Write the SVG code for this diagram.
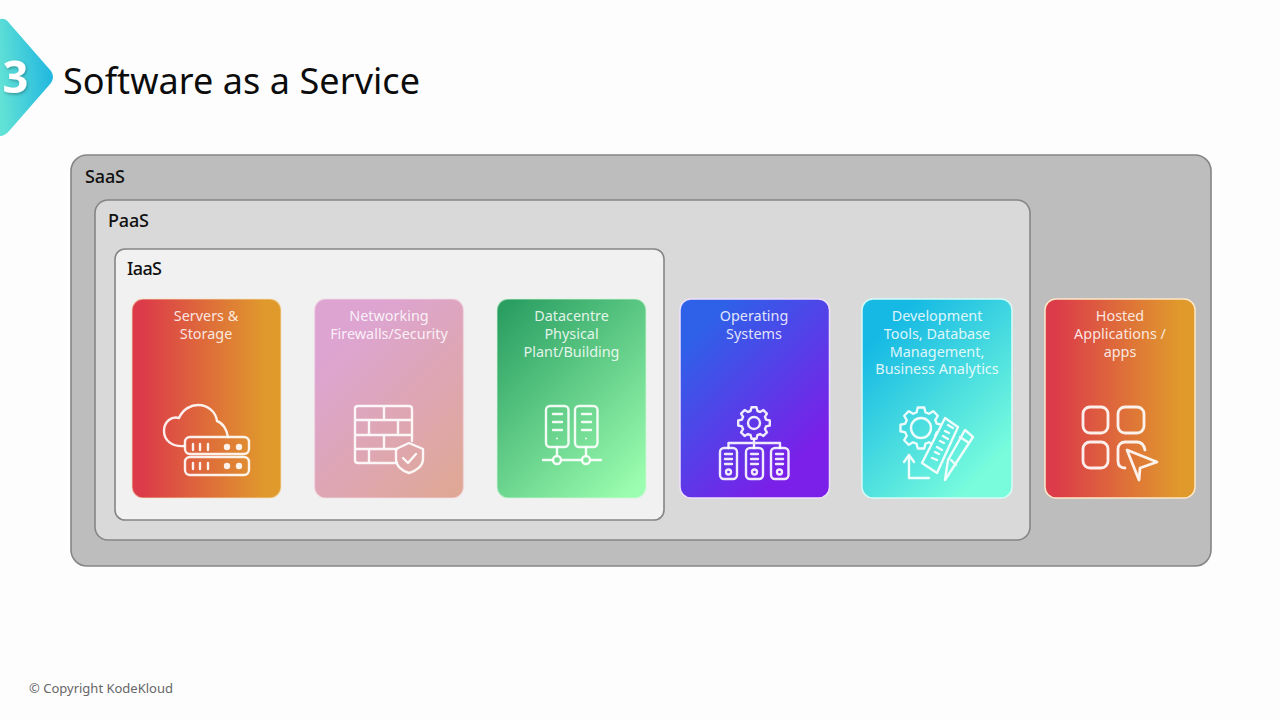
<svg xmlns="http://www.w3.org/2000/svg" width="1280" height="720" viewBox="0 0 1280 720">
<style>
text{font-family:"Noto Sans","Open Sans","DejaVu Sans",sans-serif}
.tier{stroke:#858585;stroke-width:1.6}
.lbl{font-size:18px;fill:#111;font-weight:500}
.ct{font-size:14.400px;fill:#fff;fill-opacity:.86;text-anchor:middle}
.card{stroke-width:1.500}
.i{fill:none;stroke:#fff;stroke-opacity:.9;stroke-width:2.400;stroke-linecap:round;stroke-linejoin:round}
.d{fill:#fff;fill-opacity:.9}
</style>
<defs>
<linearGradient id="gb" x1="0" y1="0.6" x2="1" y2="0.4"><stop offset="0" stop-color="#62e2d6"/><stop offset="1" stop-color="#1fb6e0"/></linearGradient>
<linearGradient id="g1" x1="0" y1="0" x2="1" y2="0"><stop offset="0.08" stop-color="#dc3c49"/><stop offset="0.9" stop-color="#e09a2c"/></linearGradient>
<linearGradient id="g2" gradientUnits="userSpaceOnUse" x1="314" y1="299" x2="488" y2="473"><stop offset="0.2" stop-color="#dda4d2"/><stop offset="1" stop-color="#dfa892"/></linearGradient>
<linearGradient id="g3" gradientUnits="userSpaceOnUse" x1="497" y1="299" x2="671" y2="473"><stop offset="0.05" stop-color="#2b9f62"/><stop offset="0.95" stop-color="#9cfeb0"/></linearGradient>
<linearGradient id="g4" gradientUnits="userSpaceOnUse" x1="680" y1="299" x2="854" y2="473"><stop offset="0.15" stop-color="#2f60e8"/><stop offset="0.8" stop-color="#7a20e8"/></linearGradient>
<linearGradient id="g5" gradientUnits="userSpaceOnUse" x1="862" y1="299" x2="1036" y2="473"><stop offset="0.15" stop-color="#15b9e4"/><stop offset="0.85" stop-color="#78fcdc"/></linearGradient>
<filter id="sh" x="-30%" y="-30%" width="160%" height="160%"><feDropShadow dx="1" dy="1.500" stdDeviation="1.500" flood-color="#000" flood-opacity=".3"/></filter>
<clipPath id="gc"><path d="M880 390H958L912 483H880Z"/></clipPath>
<path id="gear" d="M-2.500-15.800L2.500-15.800L3.450-12.020A12.500 12.500 0 0 1 6.060-10.930L9.400-12.940L12.940-9.400L10.930-6.060A12.500 12.500 0 0 1 12.020-3.450L15.800-2.500L15.800 2.500L12.020 3.450A12.500 12.500 0 0 1 10.930 6.060L12.940 9.400L9.400 12.940L6.060 10.930A12.500 12.500 0 0 1 3.450 12.020L2.500 15.800L-2.500 15.800L-3.450 12.020A12.500 12.500 0 0 1-6.060 10.930L-9.400 12.940L-12.940 9.400L-10.930 6.060A12.500 12.500 0 0 1-12.020 3.450L-15.800 2.500L-15.800-2.500L-12.020-3.450A12.500 12.500 0 0 1-10.930-6.060L-12.940-9.400L-9.400-12.940L-6.060-10.930A12.500 12.500 0 0 1-3.450-12.020Z"/>
</defs>
<rect width="1280" height="720" fill="#fdfdfd"/>
<g id="badge">
<path d="M0 19Q6 18 10 24L51 71Q55 77 51 83L10 130Q5 136 0 136Z" fill="url(#gb)"/>
<text x="2.500" y="93" font-size="45" font-weight="700" fill="#fff" filter="url(#sh)" style="font-family:'Open Sans',sans-serif">3</text>
</g>
<text id="title" x="63" y="94" font-size="36" fill="#0c0c0c" textLength="357" lengthAdjust="spacing">Software as a Service</text>
<g id="saas"><rect class="tier" x="71" y="155" width="1140" height="411" rx="16" fill="#bdbdbd"/><text class="lbl" x="85" y="183" textLength="40">SaaS</text></g>
<g id="paas"><rect class="tier" x="95" y="200" width="935" height="340" rx="13" fill="#d9d9d9"/><text class="lbl" x="108" y="227" textLength="41">PaaS</text></g>
<g id="iaas"><rect class="tier" x="115" y="249" width="549" height="271" rx="10" fill="#f1f1f1"/><text class="lbl" x="127" y="275" textLength="35">IaaS</text></g>
<g id="connectors"/>
<g id="servers-storage">
<rect class="card" x="132" y="299" width="149" height="199" rx="11" fill="url(#g1)" stroke="#f5e6c0" stroke-opacity=".5"/>
<text class="ct" x="206" y="321">Servers &amp;</text><text class="ct" x="206" y="339">Storage</text>
<path class="i" d="M184 446C173 447 164 441 164 431C164 421 172 416 179 418C183 409 191 405 198 405C208 405 216 412 217 421C223 423 227 430 228 437"/>
<rect class="i" x="185" y="437" width="64" height="17" rx="5"/><rect class="i" x="185" y="457" width="64" height="18" rx="5"/>
<path class="i" d="M193 444v6M200 444v6M208 444v6M193 463v6M200 463v6M208 463v6"/>
<circle class="d" cx="227" cy="447" r="3.200"/><circle class="d" cx="239" cy="447" r="3.200"/><circle class="d" cx="227" cy="466" r="3.200"/><circle class="d" cx="239" cy="466" r="3.200"/>
</g>
<g id="networking">
<rect class="card" x="314.500" y="299" width="149" height="199" rx="11" fill="url(#g2)" stroke="#f5dde8" stroke-opacity=".5"/>
<text class="ct" x="389" y="321">Networking</text><text class="ct" x="389" y="339">Firewalls/Security</text>
<path class="i" d="M397 463H358Q355 463 355 460V409Q355 406 358 406H409Q412 406 412 409V441M355 420H412M355 435H412M355 449H397M384 406V420M369 420V435M398 420V435M384 435V449M369 449V463"/>
<path class="i" d="M409 443L423 449V459C423 466 416 471 409 473C402 471 396 466 396 459V449Z"/>
<path class="i" d="M403 458L408 463L416 454"/>
</g>
<g id="datacentre">
<rect class="card" x="497" y="299" width="149" height="199" rx="11" fill="url(#g3)" stroke="#d6f8dc" stroke-opacity=".5"/>
<text class="ct" x="571.500" y="321">Datacentre</text><text class="ct" x="571.500" y="339">Physical</text><text class="ct" x="571.500" y="357">Plant/Building</text>
<rect class="i" x="546" y="406" width="22.500" height="41" rx="4"/><rect class="i" x="575" y="406" width="22.500" height="41" rx="4"/>
<path class="i" d="M553 414H562M553 422H562M553 430H562M582 414H591M582 422H591M582 430H591M557 447V456M586 447V456M543 460H553M561 460H582M590 460H601"/>
<circle class="i" cx="557" cy="460" r="4"/><circle class="i" cx="586" cy="460" r="4"/>
<circle class="d" cx="557" cy="438.500" r="1"/><circle class="d" cx="586" cy="438.500" r="1"/>
</g>
<g id="operating-systems">
<rect class="card" x="680" y="299" width="149.500" height="199" rx="11" fill="url(#g4)" stroke="#eee0fa" stroke-width="2"/>
<text class="ct" x="754" y="321">Operating</text><text class="ct" x="754" y="339">Systems</text>
<use href="#gear" class="i" x="754" y="423"/>
<circle class="i" cx="754" cy="423" r="6"/>
<path class="i" d="M754 439V448M728.500 448V443H780V448"/>
<rect class="i" x="720" y="448" width="17" height="31" rx="4"/><rect class="i" x="746" y="448" width="17" height="31" rx="4"/><rect class="i" x="771" y="448" width="17.500" height="31" rx="4"/>
<path class="i" d="M725 454H732M725 459H732M725 464H732M751 454H758M751 459H758M751 464H758M776 454H783M776 459H783M776 464H783"/>
<circle class="i" cx="728.500" cy="472" r="2.500"/><circle class="i" cx="754.500" cy="472" r="2.500"/><circle class="i" cx="779.500" cy="472" r="2.500"/>
</g>
<g id="dev-tools">
<rect class="card" x="862" y="299" width="150" height="199" rx="11" fill="url(#g5)" stroke="#d6fbf6" stroke-width="2"/>
<text class="ct" x="937" y="321">Development</text><text class="ct" x="937" y="339">Tools, Database</text><text class="ct" x="937" y="357">Management,</text><text class="ct" x="937" y="374">Business Analytics</text>
<g clip-path="url(#gc)"><use href="#gear" class="i" transform="translate(921 428) scale(1.300)" style="stroke-width:1.800"/></g>
<circle class="i" cx="921" cy="428" r="10"/>
<path class="i" d="M945 418L958 427L937 473L922 463Z"/>
<path class="i" d="M948 425L953 428M945 431L949 433M943 436L948 439M940 441L944 443M937 447L942 450M935 452L939 454M932 458L937 460"/>
<path class="i" d="M965 430L973 437L945 480L948 460ZM960 437L969 443M951 460L956 465"/>
<path class="i" d="M904 462L909 455L914 462M909 455V478H929"/>
</g>
<g id="hosted-apps">
<rect class="card" x="1045" y="299" width="150" height="199" rx="11" fill="url(#g1)" stroke="#fde8c8" stroke-width="2"/>
<text class="ct" x="1120" y="321">Hosted</text><text class="ct" x="1120" y="339">Applications /</text><text class="ct" x="1120" y="357">apps</text>
<g class="i" style="stroke-width:2.800">
<rect x="1083" y="407" width="25" height="26" rx="7"/><rect x="1118" y="407" width="26" height="26" rx="7"/><rect x="1083" y="442" width="25" height="26" rx="7"/>
<path d="M1125 468C1120 468 1118 465 1118 461V449C1118 445 1121 442 1125 442H1137C1141 442 1144 445 1145 450"/>
<path d="M1127 450L1157 462L1140 468L1139 480Z"/>
</g>
</g>
<text id="copyright" x="29" y="693" font-size="13" fill="#666" textLength="144">© Copyright KodeKloud</text>
</svg>
